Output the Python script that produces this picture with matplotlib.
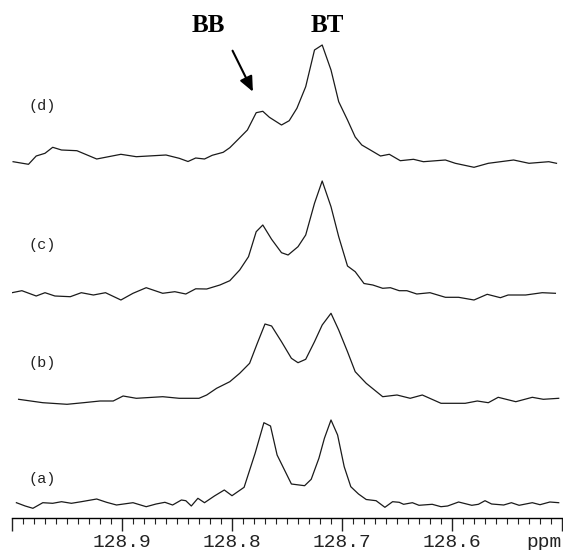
import matplotlib
matplotlib.use("Agg")
from matplotlib import pyplot as plt
from matplotlib.ticker import MultipleLocator

# chemical shift (ppm) and intensity
a_ppm = [128.996, 128.988, 128.981, 128.972, 128.963, 128.955, 128.946, 128.937, 128.923, 128.914,
         128.905, 128.890, 128.878, 128.869, 128.861, 128.854, 128.846, 128.842, 128.837, 128.831,
         128.825, 128.816, 128.807, 128.800, 128.789, 128.779, 128.771, 128.765, 128.759, 128.746,
         128.734, 128.728, 128.721, 128.716, 128.710, 128.704, 128.698, 128.692, 128.685, 128.678,
         128.669, 128.661, 128.654, 128.648, 128.644, 128.636, 128.630, 128.618, 128.610, 128.604,
         128.594, 128.582, 128.576, 128.570, 128.564, 128.553, 128.546, 128.539, 128.527, 128.520,
         128.511, 128.503]
a_int = [0.3, -3, -5.3, 0.3, -0.3, 1.3, -0.3, 1.3, 4, 0.7,
         -2, 0.3, -3.7, -1, 0.7, -2, 3, 2.3, -3, 4.7,
         0.3, 7, 13, 7.3, 15.7, 49.7, 80.3, 77, 48, 19,
         17.3, 23.7, 44.7, 64.7, 83, 68, 36.3, 16.3, 9, 3.5,
         2.3, -4.3, 1.3, 0.7, -1.3, 0.3, -2.3, -1.3, -3.7, -3,
         1, -2.3, -1.3, 2.3, -1, -2, 0.3, -2.3, 0.3, -1.7,
         1, 0.3]

b_ppm = [128.994, 128.972, 128.950, 128.935, 128.920, 128.908, 128.899, 128.887, 128.872, 128.863,
         128.848, 128.830, 128.823, 128.814, 128.802, 128.793, 128.784, 128.777, 128.770, 128.764,
         128.755, 128.746, 128.740, 128.733, 128.725, 128.718, 128.710, 128.703, 128.695, 128.688,
         128.678, 128.663, 128.650, 128.638, 128.627, 128.610, 128.588, 128.577, 128.567, 128.558,
         128.542, 128.527, 128.517, 128.503]
b_int = [-0.3, -3.7, -5.3, -3.7, -2, -2, 3, 0.7, 1.7, 2.3,
         0.7, 0.7, 4, 10.7, 17.3, 25.7, 35.7, 55.7, 75, 73,
         57.3, 40.7, 36.3, 39.7, 57.3, 74, 85.7, 69, 47.3, 27.3,
         15.7, 2.3, 4, 0.7, 4, -4.3, -4.3, -2, -3.7, 1.7,
         -2.7, 1.7, -0.3, 0.7]

c_ppm = [129.000, 128.991, 128.978, 128.970, 128.961, 128.947, 128.937, 128.926, 128.915, 128.901,
         128.890, 128.878, 128.863, 128.852, 128.842, 128.833, 128.823, 128.811, 128.802, 128.793,
         128.785, 128.778, 128.772, 128.764, 128.755, 128.749, 128.740, 128.733, 128.725, 128.718,
         128.710, 128.703, 128.695, 128.688, 128.680, 128.672, 128.663, 128.656, 128.648, 128.641,
         128.632, 128.620, 128.606, 128.594, 128.580, 128.568, 128.556, 128.549, 128.533, 128.518,
         128.506]
c_int = [0.3, 2.3, -3, 0.3, -3, -3.7, 0.3, -2, 0.3, -7,
         -0.3, 5.3, -0.3, 1.3, -1, 4.2, 4, 8, 12.3, 23,
         36.3, 61.3, 68, 53.7, 40.3, 38, 46.3, 58, 89.7, 112,
         86.3, 56.3, 27, 21.3, 9.5, 8, 4.7, 5.3, 2.3, 2.3,
         -1, 0.3, -4.3, -4.3, -7, -1.3, -4.7, -2, -2, 0.3,
         -0.3]

d_ppm = [128.999, 128.985, 128.978, 128.970, 128.963, 128.955, 128.941, 128.923, 128.901, 128.887,
         128.860, 128.848, 128.840, 128.833, 128.825, 128.818, 128.808, 128.802, 128.795, 128.786,
         128.778, 128.772, 128.766, 128.755, 128.748, 128.741, 128.733, 128.725, 128.718, 128.710,
         128.703, 128.695, 128.688, 128.682, 128.675, 128.665, 128.657, 128.647, 128.635, 128.626,
         128.606, 128.597, 128.580, 128.567, 128.544, 128.530, 128.512, 128.505]
d_int = [-1.7, -4.3, 4, 6.7, 12.7, 10, 9.3, 1, 5.7, 3.3,
         5, 1.7, -1.5, 2, 1, 4.7, 7.7, 12.3, 20, 30,
         47.3, 48.7, 42.7, 35, 39.3, 51.7, 73.3, 110, 115, 90,
         58.3, 40, 23, 15, 10.5, 4, 5.7, -0.7, 0.7, -1.7,
         0, -3.3, -7.3, -3.3, 0, -3.3, -1.7, -3.3]

labels = ["(a)", "(b)", "(c)", "(d)"]
tick_ppm = [129.0, 128.9, 128.8, 128.7, 128.6, 128.5]
tick_labels = ["", "128.9", "128.8", "128.7", "128.6", ""]

MONO = "Liberation Mono"
SERIF = "Liberation Serif"

fig = plt.figure(figsize=(5.63, 5.5), dpi=100)
# y axis runs in pixels above the ppm axis line
ax = fig.add_axes([12 / 563, 31.7 / 550, 550 / 563, 518.3 / 550])

traces = [(a_ppm, a_int), (b_ppm, b_int), (c_ppm, c_int), (d_ppm, d_int)]
offsets = [15.3, 119.3, 225.3, 358.3]
label_y = [39.3, 155.3, 273.3, 412]

for (ppm, inten), off, lab, ly in zip(traces, offsets, labels, label_y):
    ax.plot(ppm, [v + off for v in inten], color="#1a1a1a", lw=0.9)
    ax.text(128.973, ly, lab, family=MONO, fontsize=11, ha="center", va="center",
            color="#222222")

ax.set_xlim(129.0, 128.5)
ax.set_ylim(0, 518.3)

for side in ["left", "right", "top"]:
    ax.spines[side].set_visible(False)
ax.spines["bottom"].set_linewidth(1.0)
ax.set_yticks([])

ax.set_xticks(tick_ppm)
ax.set_xticklabels(tick_labels, family=MONO, fontsize=14)
ax.xaxis.set_minor_locator(MultipleLocator(0.01))
ax.tick_params(axis="x", which="major", length=9, width=1.0, pad=2.5, colors="#222222")
ax.tick_params(axis="x", which="minor", length=4, width=0.8, colors="#222222")

ax.text(1.0, -0.0295, "ppm", transform=ax.transAxes, family=MONO, fontsize=14,
        ha="right", va="top", color="#222222")

# peak assignments
ax.text(128.8214, 493.3, "BB", family=SERIF, fontsize=18, fontweight="bold",
        ha="center", va="center")
ax.text(128.713, 493.3, "BT", family=SERIF, fontsize=18, fontweight="bold",
        ha="center", va="center")
ax.annotate("", xy=(128.781, 426.6), xytext=(128.7995, 467.6),
            arrowprops=dict(arrowstyle="-|>,head_length=0.9,head_width=0.4",
                            color="black", lw=1.5, shrinkA=0, shrinkB=0))

fig.savefig("out.png", dpi=100)
